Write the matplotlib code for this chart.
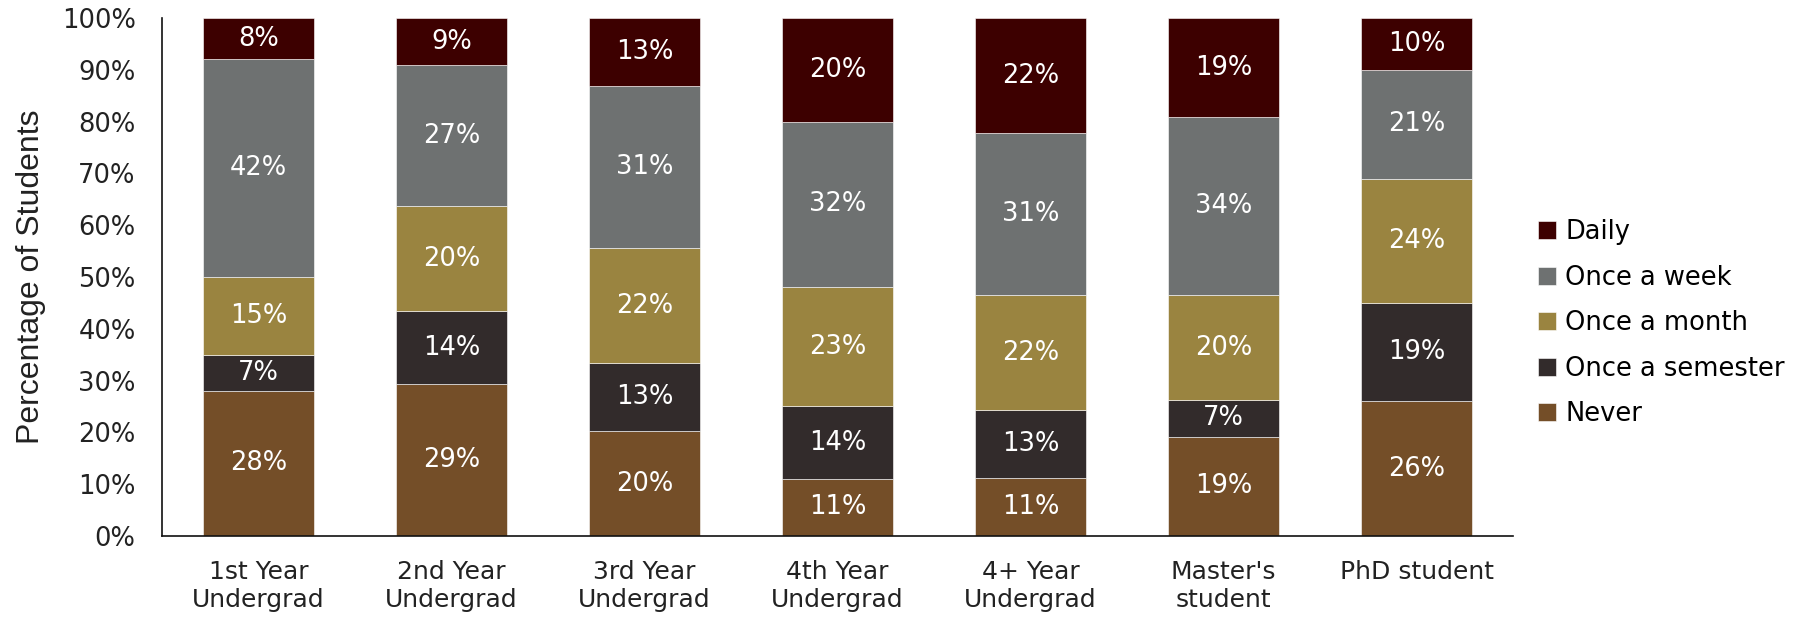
import matplotlib
matplotlib.use("Agg")
import matplotlib.pyplot as plt
import numpy as np

categories = ["1st Year\nUndergrad", "2nd Year\nUndergrad", "3rd Year\nUndergrad",
              "4th Year\nUndergrad", "4+ Year\nUndergrad", "Master's\nstudent", "PhD student"]
series_names = ["Never", "Once a semester", "Once a month", "Once a week", "Daily"]
never = [28, 29, 20, 11, 11, 19, 26]
semester = [7, 14, 13, 14, 13, 7, 19]
month = [15, 20, 22, 23, 22, 20, 24]
week = [42, 27, 31, 32, 31, 34, 21]
daily = [8, 9, 13, 20, 22, 19, 10]
colors = ["#744e28", "#322b2b", "#9a8440", "#6e7171", "#3d0000"]
yticks = [0, 0.1, 0.2, 0.3, 0.4, 0.5, 0.6, 0.7, 0.8, 0.9, 1.0]
yticklabels = ["0%", "10%", "20%", "30%", "40%", "50%", "60%", "70%", "80%", "90%", "100%"]

data = np.array([never, semester, month, week, daily], dtype=float)
totals = data.sum(axis=0)
shares = data / totals

fig = plt.figure(figsize=(18, 6.17), dpi=100)
ax = fig.add_axes([0.09, 0.1313, 0.7506, 0.8395])
x = np.arange(len(categories))
bottom = np.zeros(len(categories))
handles = []
for i, name in enumerate(series_names):
    bars = ax.bar(x, shares[i], 0.575, bottom=bottom, color=colors[i],
                  edgecolor="#ffffff", linewidth=0.4, label=name)
    handles.append(bars)
    for j in range(len(categories)):
        ax.text(x[j], bottom[j] + shares[i][j] / 2, f"{int(data[i][j])}%",
                ha="center", va="center", color="white", fontsize=18.5,
                family="DejaVu Sans")
    bottom += shares[i]

ax.set_xlim(-0.5, len(categories) - 0.5)
ax.set_ylim(0, 1.0)
ax.set_yticks(yticks)
ax.set_yticklabels(yticklabels, fontsize=18.5, family="DejaVu Sans", color="#222222")
ax.set_xticks(x)
ax.set_xticklabels(categories, fontsize=18, family="DejaVu Sans", color="#222222",
                   linespacing=1.25)
ax.tick_params(axis="both", length=0)
ax.tick_params(axis="y", pad=19)
ax.tick_params(axis="x", pad=17)
for s in ["top", "right"]:
    ax.spines[s].set_visible(False)
for s in ["left", "bottom"]:
    ax.spines[s].set_linewidth(1.2)
    ax.spines[s].set_color("#111111")
ax.set_ylabel("Percentage of Students", fontsize=23, family="Liberation Sans",
              color="#222222")
ax.yaxis.set_label_coords(-0.086, 0.5)

leg = fig.legend(handles[::-1], series_names[::-1], loc="center left",
                 bbox_to_anchor=(0.849, 0.476), frameon=False,
                 prop={"family": "DejaVu Sans", "size": 18.5},
                 handlelength=0.7, handleheight=0.7, handletextpad=0.35,
                 labelspacing=0.76, borderaxespad=0)

fig.savefig("out.png", dpi=100)
